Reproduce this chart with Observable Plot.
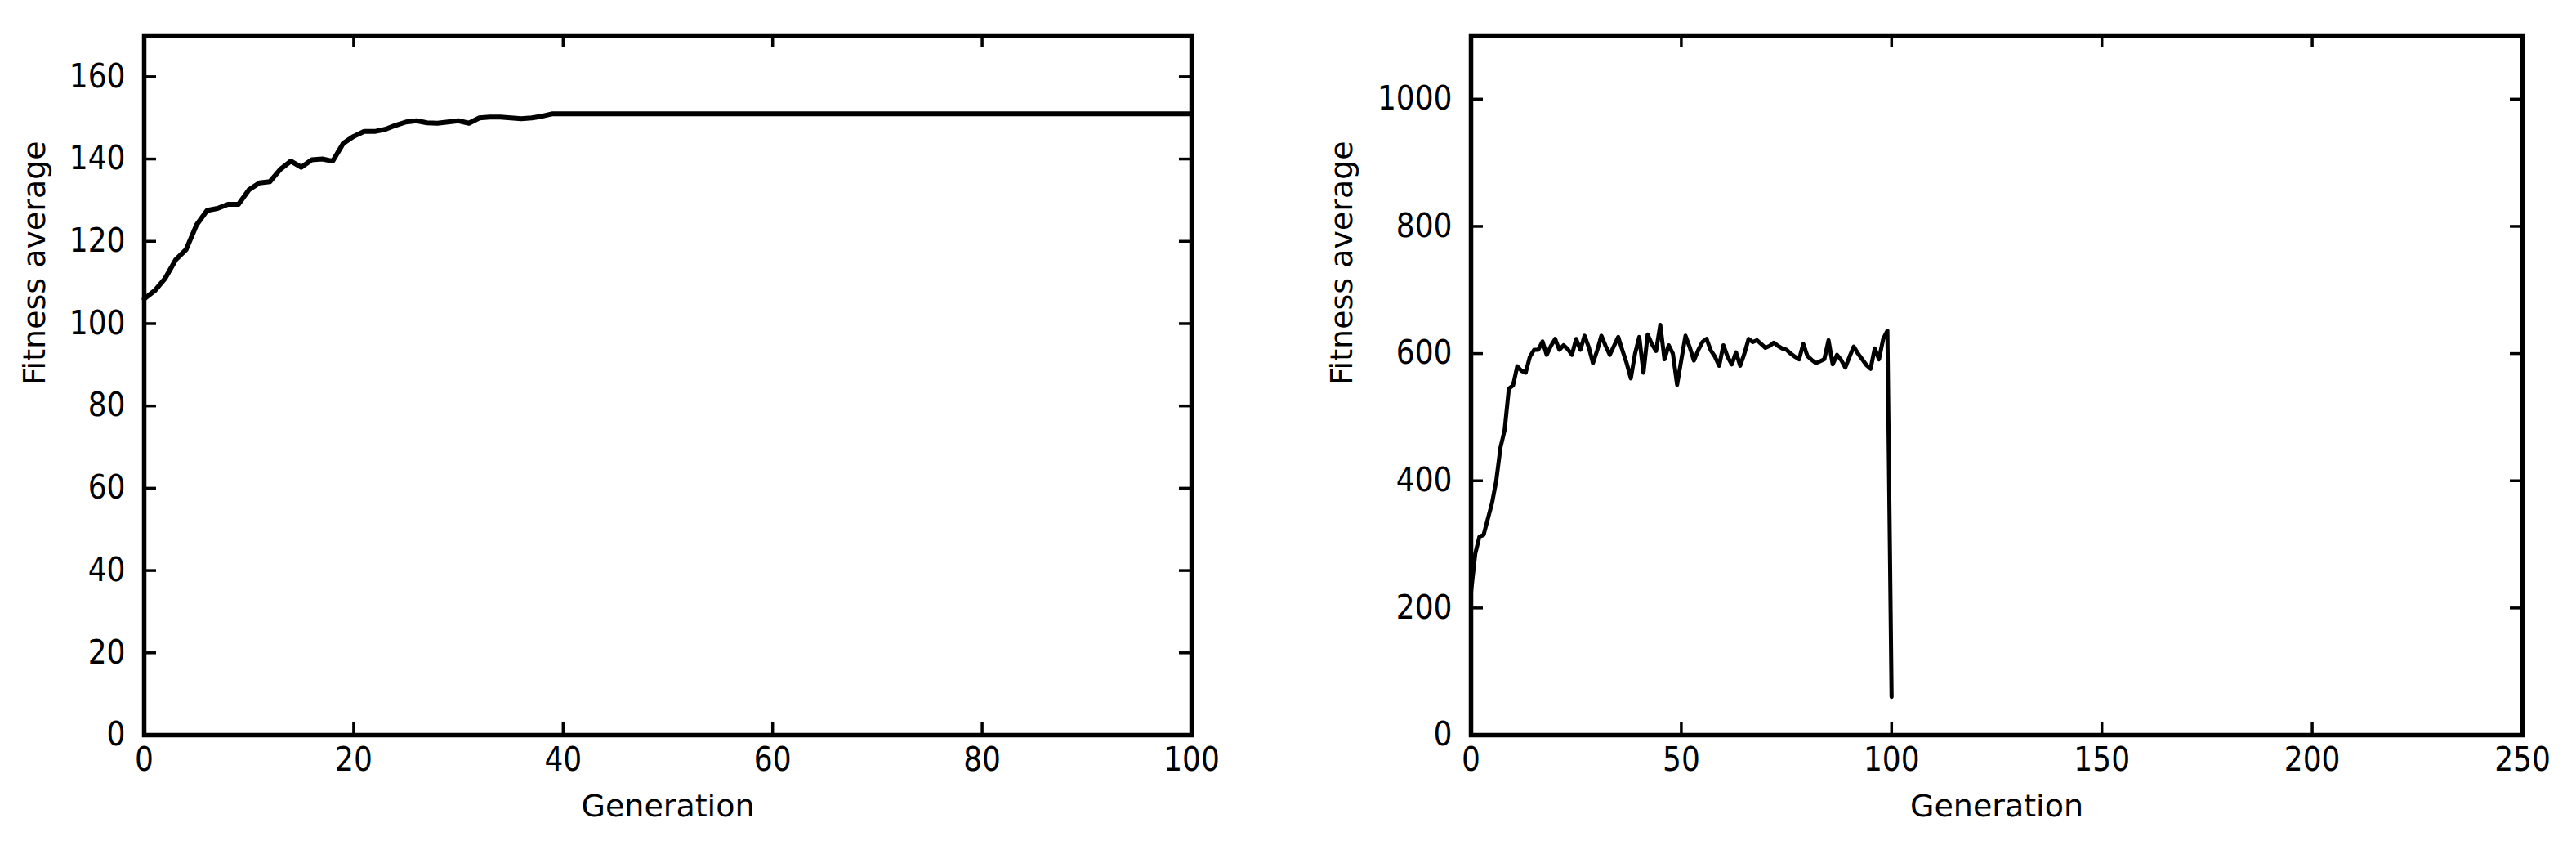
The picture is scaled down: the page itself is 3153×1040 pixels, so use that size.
<!DOCTYPE html>
<html><head><meta charset="utf-8">
<script src="https://cdn.jsdelivr.net/npm/d3@7"></script>
<script src="https://cdn.jsdelivr.net/npm/@observablehq/plot@0.6"></script>
<style>
html,body{margin:0;padding:0;background:#fff;}
#wrap{position:relative;width:3153px;height:1040px;overflow:hidden;background:#fff;}
#left,#right{position:absolute;top:0;}
#left{left:0;} #right{left:1560px;}
g[aria-label="x-axis tick label"] text, g[aria-label="y-axis tick label"] text{font-family:"DejaVu Sans Condensed","Liberation Sans Narrow","DejaVu Sans",sans-serif;font-stretch:condensed;}
</style></head><body>
<div id="wrap"><div id="left"></div><div id="right"></div></div>
<script>
// Left chart: fitness average per generation (generation = index 0..100)
const leftFitness = [106, 108, 111, 115.5, 118, 124, 127.5, 128, 129, 129,
  132.5, 134.2, 134.5, 137.5, 139.5, 138, 139.8, 140, 139.5, 143.8,
  145.5, 146.7, 146.7, 147.2, 148.2, 149, 149.3, 148.8, 148.7, 149,
  149.3, 148.7, 150, 150.2, 150.2, 150, 149.8, 150, 150.4, 151,
  151, 151, 151, 151, 151, 151, 151, 151, 151, 151,
  151, 151, 151, 151, 151, 151, 151, 151, 151, 151,
  151, 151, 151, 151, 151, 151, 151, 151, 151, 151,
  151, 151, 151, 151, 151, 151, 151, 151, 151, 151,
  151, 151, 151, 151, 151, 151, 151, 151, 151, 151,
  151, 151, 151, 151, 151, 151, 151, 151, 151, 151,
  151];
const leftXTicks = [0, 20, 40, 60, 80, 100];
const leftYTicks = [0, 20, 40, 60, 80, 100, 120, 140, 160];
const leftXDomain = [0, 100];
const leftYDomain = [0, 170];

// Right chart: fitness average per generation (generation = index 0..100)
const rightFitness = [225, 285, 312, 315, 340, 365, 400, 452, 480, 545,
  550, 580, 573, 570, 595, 606, 606, 619, 598, 612,
  623, 606, 613, 607, 598, 623, 606, 628, 610, 585,
  605, 628, 612, 598, 612, 626, 605, 585, 561, 600,
  626, 570, 630, 615, 604, 645, 591, 613, 600, 551,
  590, 628, 610, 589, 605, 618, 623, 605, 595, 581,
  613, 595, 583, 602, 581, 600, 623, 618, 621, 615,
  609, 612, 617, 612, 608, 606, 600, 595, 591, 615,
  596, 590, 585, 588, 591, 621, 583, 598, 590, 578,
  595, 611, 600, 591, 582, 576, 608, 591, 623, 636,
  60];
const rightXTicks = [0, 50, 100, 150, 200, 250];
const rightYTicks = [0, 200, 400, 600, 800, 1000];
const rightXDomain = [0, 250];
const rightYDomain = [0, 1100];

const xLabel = "Generation";
const yLabel = "Fitness average";

const H = 1040, MT = 43, MB = 141, TL = 15;

function panel({W, ml, mr, xDomain, yDomain, xTicks, yTicks, values, lw, ylabDx}) {
  const innerW = W - ml - mr, innerH = H - MT - MB;
  return Plot.plot({
    width: W, height: H,
    marginLeft: ml, marginRight: mr, marginTop: MT, marginBottom: MB,
    x: {domain: xDomain},
    y: {domain: yDomain},
    style: {fontFamily: "DejaVu Sans", fontSize: "38px", background: "white", color: "black", overflow: "visible"},
    marks: [
      Plot.line(values, {x: (d, i) => i, y: d => d, stroke: "black", strokeWidth: lw, strokeLinejoin: "round"}),
      Plot.tickX(xTicks, {x: d => d, insetBottom: innerH - TL, stroke: "black", strokeWidth: 3.5}),
      Plot.tickX(xTicks, {x: d => d, insetTop: innerH - TL, stroke: "black", strokeWidth: 3.5}),
      Plot.tickY(yTicks, {y: d => d, insetRight: innerW - TL, stroke: "black", strokeWidth: 3.5}),
      Plot.tickY(yTicks, {y: d => d, insetLeft: innerW - TL, stroke: "black", strokeWidth: 3.5}),
      Plot.frame({stroke: "black", strokeWidth: 5.5}),
      Plot.axisX(xTicks, {tickSize: 0, tickPadding: 15, fontSize: 40, label: null, tickFormat: d3.format("d")}),
      Plot.axisY(yTicks, {tickSize: 0, tickPadding: 23, fontSize: 40, label: null, tickFormat: d3.format("d")}),
      Plot.text([xLabel], {text: d => d, frameAnchor: "bottom", dy: 87, lineAnchor: "middle", fontSize: 38, fill: "black"}),
      Plot.text([yLabel], {text: d => d, frameAnchor: "left", dx: ylabDx, rotate: -90, lineAnchor: "middle", fontSize: 38, fill: "black"})
    ]
  });
}

document.getElementById("left").appendChild(panel({
  W: 1560, ml: 176, mr: 102, xDomain: leftXDomain, yDomain: leftYDomain,
  xTicks: leftXTicks, yTicks: leftYTicks, values: leftFitness, lw: 6, ylabDx: -134
}));
document.getElementById("right").appendChild(panel({
  W: 1593, ml: 240, mr: 66, xDomain: rightXDomain, yDomain: rightYDomain,
  xTicks: rightXTicks, yTicks: rightYTicks, values: rightFitness, lw: 5, ylabDx: -158
}));
</script>
</body></html>
